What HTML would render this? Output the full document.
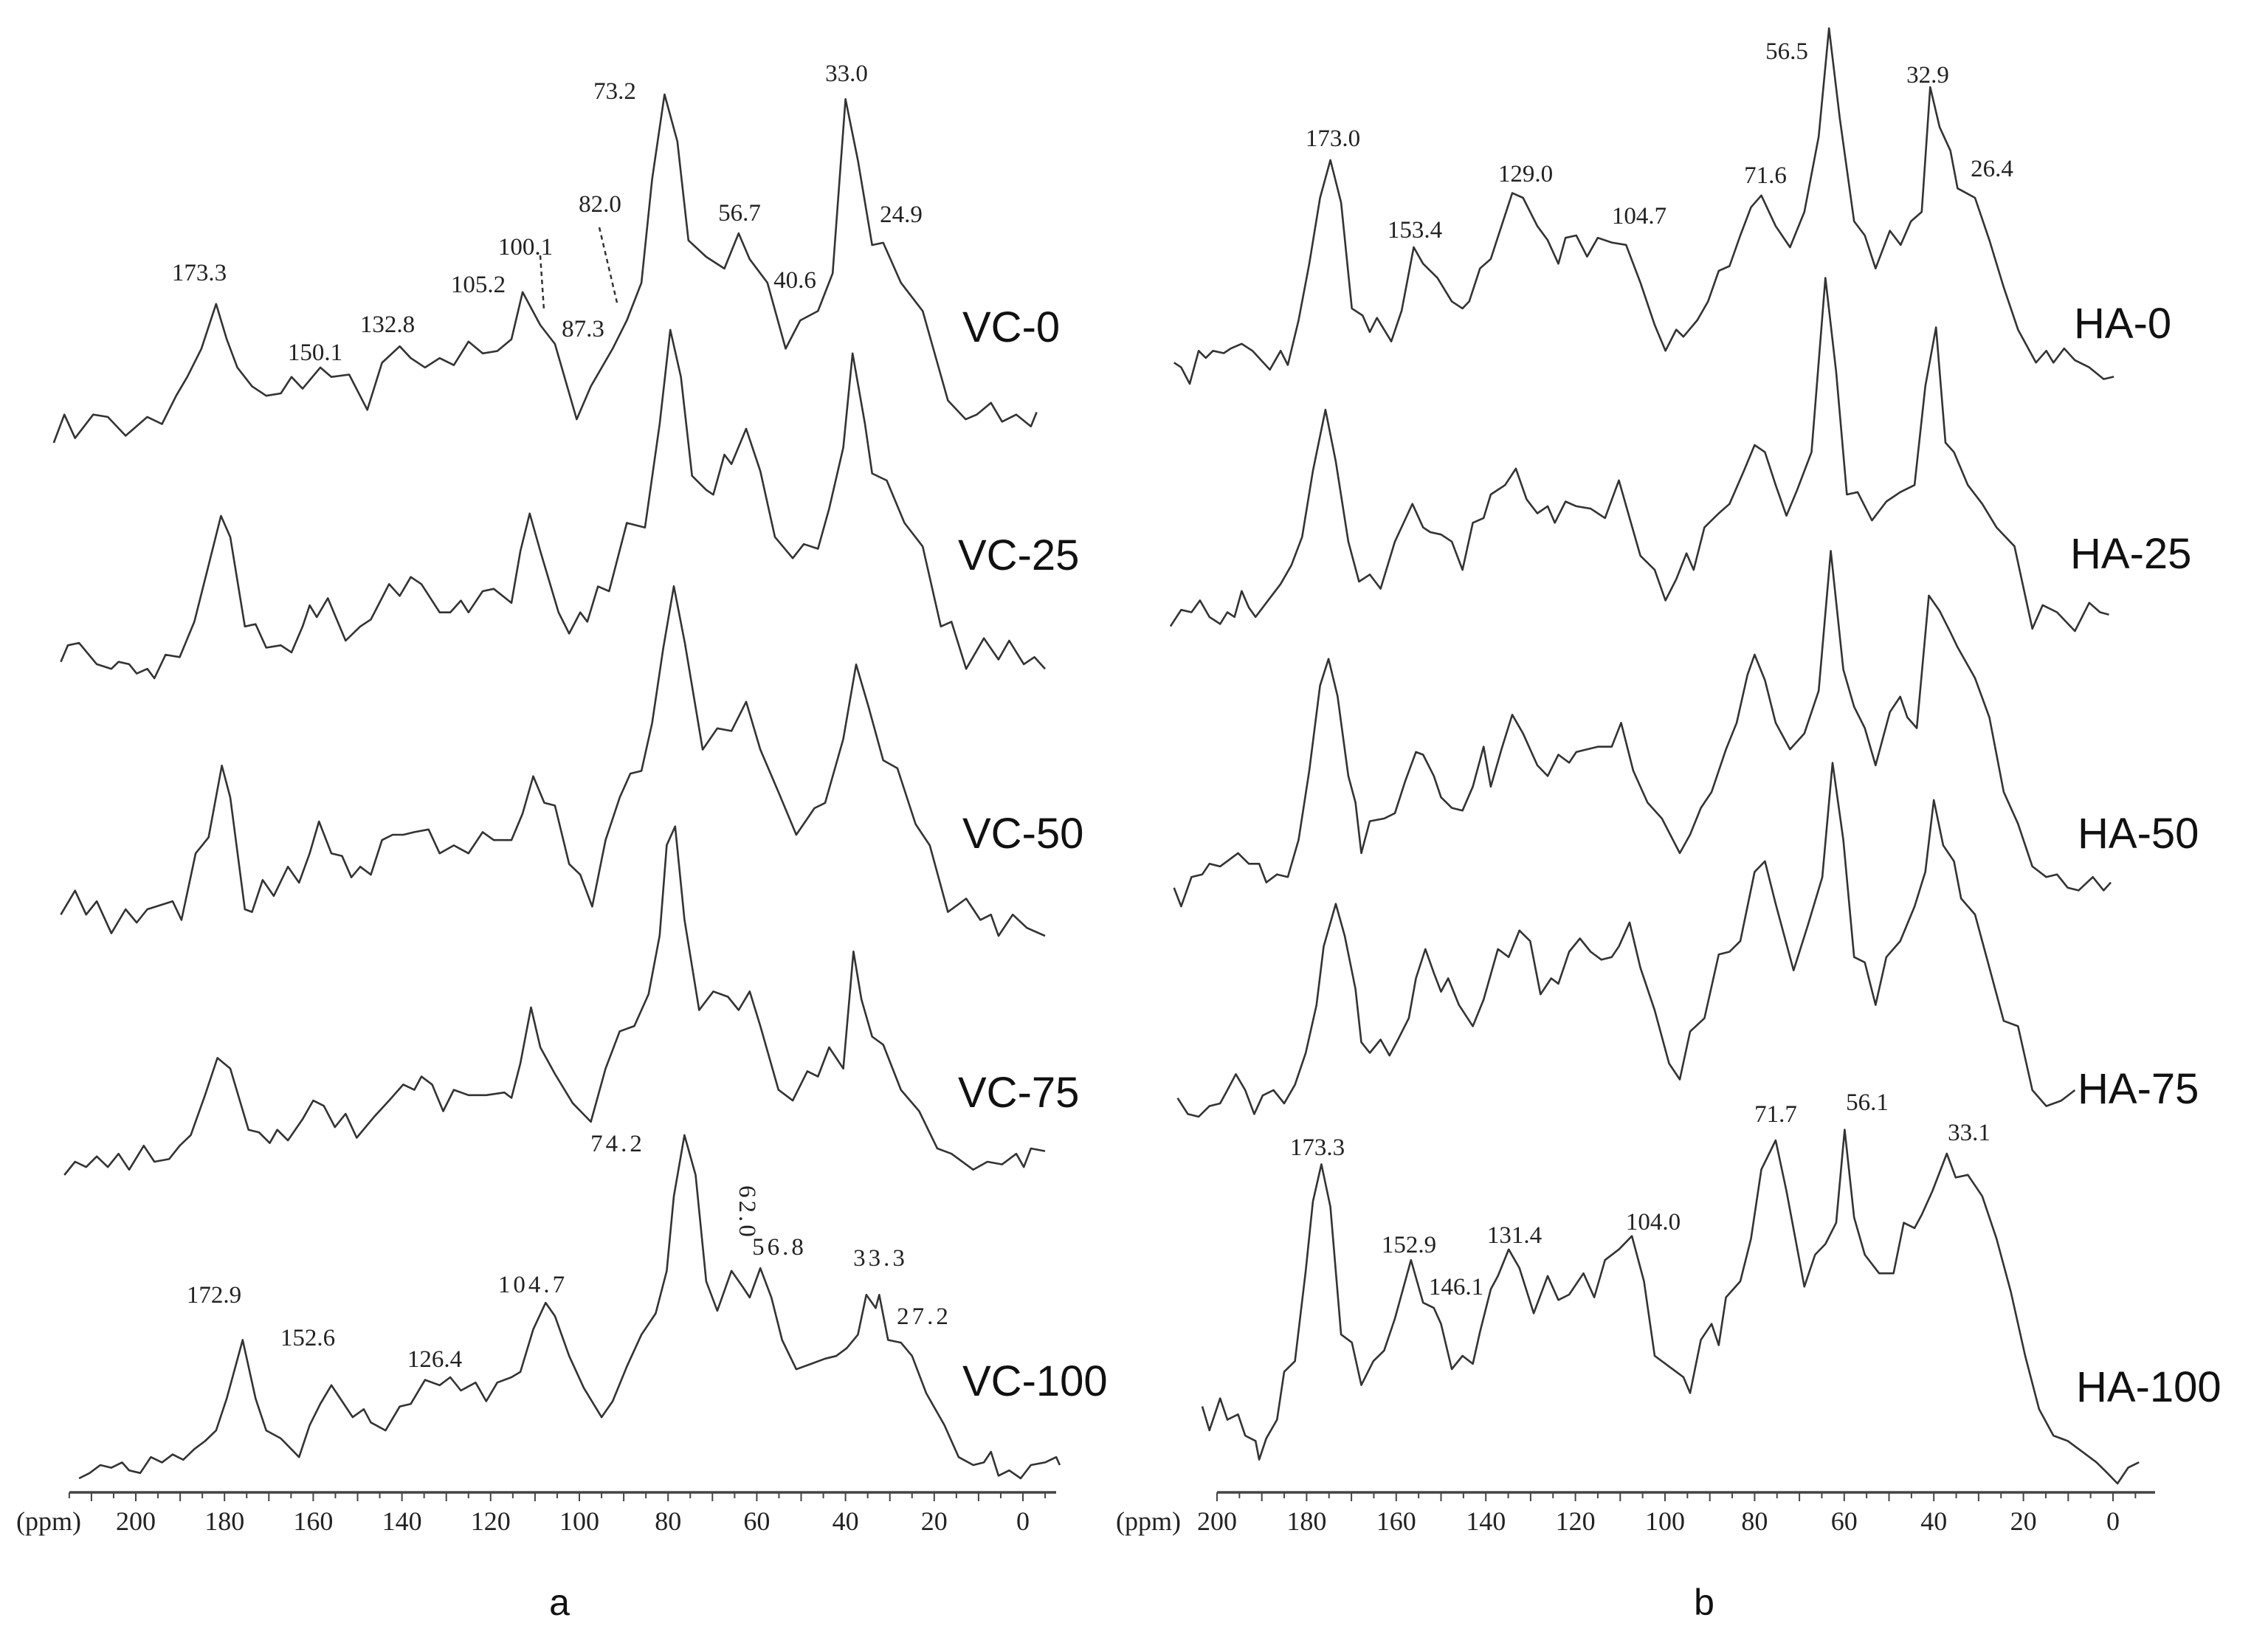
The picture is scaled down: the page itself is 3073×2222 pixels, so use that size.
<!DOCTYPE html>
<html><head><meta charset="utf-8">
<style>
html,body{margin:0;padding:0;background:#fff;}
svg{display:block;}
.pk{font-family:"Liberation Serif",serif;font-size:33px;fill:#222;}
.lab{font-family:"Liberation Sans",sans-serif;font-size:58px;fill:#111;}
.tk{font-family:"Liberation Serif",serif;font-size:36px;fill:#222;}
.pan{font-family:"Liberation Sans",sans-serif;font-size:50px;fill:#111;}
</style></head>
<body>
<svg id="chart" width="3073" height="2222" viewBox="0 0 3073 2222" xmlns="http://www.w3.org/2000/svg">
<g id="panelA"></g>
<g id="panelB"></g>
<g>
<text class="pk" x="270" y="380" text-anchor="middle">173.3</text>
<text class="pk" x="427" y="488" text-anchor="middle">150.1</text>
<text class="pk" x="525" y="450" text-anchor="middle">132.8</text>
<text class="pk" x="648" y="396" text-anchor="middle">105.2</text>
<text class="pk" x="712" y="345" text-anchor="middle">100.1</text>
<text class="pk" x="813" y="287" text-anchor="middle">82.0</text>
<text class="pk" x="790" y="456" text-anchor="middle">87.3</text>
<text class="pk" x="833" y="134" text-anchor="middle">73.2</text>
<text class="pk" x="1002" y="299" text-anchor="middle">56.7</text>
<text class="pk" x="1077" y="390" text-anchor="middle">40.6</text>
<text class="pk" x="1147" y="110" text-anchor="middle">33.0</text>
<text class="pk" x="1221" y="301" text-anchor="middle">24.9</text>
<line x1="732" y1="346" x2="737" y2="420" stroke="#333" stroke-width="2.5" stroke-dasharray="6,5"/>
<line x1="812" y1="308" x2="836" y2="410" stroke="#333" stroke-width="2.5" stroke-dasharray="6,5"/>
<text class="pk" x="837" y="1560" text-anchor="middle" letter-spacing="4">74.2</text>
<text class="pk" x="0" y="0" text-anchor="middle" letter-spacing="4" transform="translate(1002,1643) rotate(90)">62.0</text>
<text class="pk" x="1056" y="1700" text-anchor="middle" letter-spacing="4">56.8</text>
<text class="pk" x="1193" y="1715" text-anchor="middle" letter-spacing="4">33.3</text>
<text class="pk" x="1252" y="1794" text-anchor="middle" letter-spacing="4">27.2</text>
<text class="pk" x="722" y="1751" text-anchor="middle" letter-spacing="4">104.7</text>
<text class="pk" x="290" y="1765" text-anchor="middle">172.9</text>
<text class="pk" x="417" y="1823" text-anchor="middle">152.6</text>
<text class="pk" x="589" y="1852" text-anchor="middle">126.4</text>
</g>
<g>
<text class="pk" x="1806" y="198" text-anchor="middle">173.0</text>
<text class="pk" x="1917" y="322" text-anchor="middle">153.4</text>
<text class="pk" x="2067" y="246" text-anchor="middle">129.0</text>
<text class="pk" x="2221" y="303" text-anchor="middle">104.7</text>
<text class="pk" x="2392" y="248" text-anchor="middle">71.6</text>
<text class="pk" x="2421" y="80" text-anchor="middle">56.5</text>
<text class="pk" x="2612" y="112" text-anchor="middle">32.9</text>
<text class="pk" x="2699" y="239" text-anchor="middle">26.4</text>
<text class="pk" x="1785" y="1565" text-anchor="middle">173.3</text>
<text class="pk" x="2406" y="1520" text-anchor="middle">71.7</text>
<text class="pk" x="2530" y="1504" text-anchor="middle">56.1</text>
<text class="pk" x="2668" y="1545" text-anchor="middle">33.1</text>
<text class="pk" x="1909" y="1697" text-anchor="middle">152.9</text>
<text class="pk" x="1973" y="1754" text-anchor="middle">146.1</text>
<text class="pk" x="2052" y="1684" text-anchor="middle">131.4</text>
<text class="pk" x="2240" y="1666" text-anchor="middle">104.0</text>
</g>
<text class="pan" x="758" y="2188" text-anchor="middle">a</text>
<text class="pan" x="2309" y="2188" text-anchor="middle">b</text>
</svg>
<script>
// ---- data: chemical shift (ppm, axis position) and intensity (arbitrary units) ----
const vc0_ppm=[218.5,216.1,213.7,209.6,206.3,202.3,197.4,194.1,190.9,188.4,185.2,181.9,179.5,177.1,173.8,170.6,167.3,164.9,162.4,158.4,155.9,151.9,147.8,144.5,140.5,138.0,134.8,131.5,128.3,125.0,121.8,118.5,115.3,112.8,108.8,105.5,100.6,97.4,92.5,89.3,86.0,83.6,80.8,77.9,75.4,71.4,67.3,64.1,61.6,57.6,53.5,50.2,46.2,42.9,40.0,37.2,34.0,31.5,27.5,22.6,16.9,12.9,10.4,7.2,4.7,1.5,-1.8,-3.1];
const vc0_int=[0,60,10,60,55,15,55,40,100,140,200,295,220,160,120,100,105,140,115,160,140,145,70,170,205,180,160,180,165,215,190,195,220,320,250,210,50,120,200,260,340,560,740,640,430,395,370,445,390,340,200,260,280,360,730,600,420,425,340,280,90,50,60,85,45,60,35,65];
const vc25_ppm=[216.9,215.3,212.8,208.8,205.5,203.9,201.5,199.8,197.4,195.8,193.3,190.1,186.8,183.6,180.8,178.7,175.4,173.0,170.6,167.3,164.9,162.4,160.8,159.2,156.7,152.7,149.4,147.0,142.9,140.5,138.0,135.6,131.5,129.1,126.7,125.0,121.8,119.3,115.3,113.3,111.2,108.8,104.7,102.3,99.8,98.2,95.8,93.3,89.3,85.2,81.9,79.5,77.1,74.6,71.4,69.8,67.3,65.7,62.4,59.2,55.9,51.9,49.4,46.2,43.7,40.5,38.4,35.6,34.0,30.7,26.7,22.6,18.5,16.1,12.8,8.8,5.5,3.1,-0.2,-2.6,-5.0];
const vc25_int=[35,70,75,30,20,35,30,10,20,0,50,45,120,240,345,300,110,115,65,70,55,110,155,130,170,80,110,125,200,175,215,200,140,140,165,140,185,190,160,270,350,270,140,95,140,120,195,185,330,320,540,740,640,430,400,390,475,455,530,440,300,255,285,275,360,490,690,540,435,420,330,280,110,120,20,85,40,80,30,45,20];
const vc50_ppm=[216.9,213.7,211.2,208.8,205.5,202.3,199.8,197.4,191.7,189.7,186.5,183.6,180.6,178.7,175.4,173.8,171.4,168.9,165.7,163.2,160.8,158.7,155.9,153.5,151.4,149.4,147.0,144.5,142.1,139.7,137.2,134.0,131.5,128.3,125.0,121.8,119.3,115.3,112.8,110.4,107.9,105.5,102.3,99.8,97.1,94.1,90.9,88.5,86.0,83.6,81.1,78.7,76.2,72.2,68.9,65.7,62.4,59.2,55.1,51.1,47.0,44.6,40.5,37.6,34.8,31.5,28.3,24.2,21.0,16.9,12.8,9.6,7.2,5.5,2.3,-0.9,-5.0];
const vc50_int=[40,85,40,65,5,50,25,50,65,30,155,185,320,260,50,45,105,75,130,100,155,215,155,150,110,130,115,180,190,190,195,200,155,170,155,195,180,180,230,300,250,245,135,115,55,180,260,305,310,400,540,657,550,350,390,385,440,350,270,190,240,250,370,510,430,330,315,210,170,45,70,30,40,0,40,15,0];
const vc75_ppm=[216.1,213.7,211.2,208.8,206.3,203.9,201.5,198.2,195.8,192.5,190.1,187.6,184.4,181.6,178.7,174.6,172.2,169.8,168.1,165.7,162.4,160.0,157.6,155.1,152.7,150.2,146.2,142.9,139.7,137.2,135.6,133.2,130.7,128.3,125.0,121.0,116.9,115.3,113.3,110.9,108.8,105.5,101.5,97.4,94.1,90.9,87.6,84.4,81.9,80.3,78.4,76.3,73.0,69.8,66.5,64.1,61.6,59.2,55.1,51.9,48.6,46.2,43.7,40.5,38.2,36.4,34.0,31.5,27.5,23.4,19.3,16.1,11.2,8.0,4.7,1.5,-0.2,-1.8,-5.0];
const vc75_int=[0,25,15,35,15,40,10,55,25,30,55,75,150,220,200,85,80,60,85,65,105,140,130,90,115,70,110,140,170,160,185,170,120,160,150,150,155,145,210,315,240,190,135,100,200,270,280,340,450,620,655,480,310,345,335,310,345,280,160,140,195,185,240,200,420,330,260,245,160,120,50,40,10,25,20,40,15,50,45];
const vc100_ppm=[212.8,210.4,208.0,205.5,203.1,201.5,199.0,196.6,194.1,191.7,189.3,186.8,184.4,181.9,179.5,175.9,173.0,170.6,167.3,163.2,160.8,158.4,155.9,153.5,151.1,148.6,147.0,143.7,140.5,138.0,134.8,131.5,129.1,126.7,123.4,121.0,118.5,115.3,113.3,110.4,107.6,105.5,102.3,99.0,95.0,92.5,89.3,86.0,82.8,80.3,78.7,76.3,73.8,71.4,68.9,65.7,63.2,61.6,59.2,56.7,54.3,51.1,47.8,44.6,42.1,39.7,37.2,35.3,33.2,32.4,30.4,27.5,25.0,21.8,17.7,14.5,11.2,8.8,7.2,5.5,3.1,0.5,-1.8,-5.0,-7.5,-8.3];
const vc100_int=[0,10,25,20,30,15,10,40,30,45,35,55,70,90,150,260,150,90,75,40,100,140,175,145,115,130,105,90,135,140,185,175,190,165,180,145,180,190,200,280,330,305,230,170,115,145,210,270,310,390,530,645,570,370,315,390,360,340,395,340,260,205,215,225,230,245,270,345,320,345,260,255,230,160,100,40,25,30,50,5,15,0,25,30,40,25];
const ha0_ppm=[209.6,208.0,206.1,204.1,202.5,200.9,198.5,196.9,194.5,192.1,188.2,185.8,184.2,181.8,179.4,177.0,174.7,172.3,169.9,167.5,165.9,164.3,161.1,158.8,156.1,154.0,150.8,147.6,145.2,143.7,141.3,138.9,136.5,134.1,131.7,128.5,126.2,123.8,122.2,119.8,117.4,115.0,111.9,108.7,105.5,102.3,99.9,97.5,95.9,92.8,90.4,88.0,85.6,83.2,80.8,78.5,75.3,72.1,68.9,65.7,63.4,61.0,57.8,55.4,53.0,49.8,47.4,45.1,42.7,40.8,38.7,36.3,34.7,30.8,27.6,24.4,21.2,17.2,14.9,13.3,10.9,8.5,5.3,2.1,-0.2];
const ha0_int=[45,35,0,70,55,70,65,75,85,70,30,70,40,135,255,395,475,385,160,145,110,140,90,155,290,255,225,175,160,175,245,265,335,405,395,335,305,255,310,315,270,310,300,295,215,125,70,115,100,135,175,240,250,315,375,400,335,290,365,525,755,565,345,315,245,325,295,345,365,630,545,495,415,395,305,205,115,45,70,45,75,50,35,10,15];
const ha25_ppm=[210.4,208.0,205.7,203.8,201.7,199.3,197.7,196.1,194.5,192.9,191.4,189.0,185.8,183.4,181.0,178.6,175.8,173.5,170.7,168.3,165.9,163.5,160.3,156.4,154.0,152.4,150.0,147.6,145.2,142.9,140.5,138.9,135.7,133.3,130.9,128.5,126.2,124.6,122.2,119.8,116.6,113.4,110.3,107.9,105.5,102.3,99.9,97.5,95.2,93.6,91.2,88.0,85.6,82.4,80.0,77.7,75.3,72.9,70.5,67.3,64.2,61.8,59.4,57.0,53.8,50.6,47.5,44.3,41.9,39.5,37.4,35.5,32.4,29.2,26.0,22.0,18.0,15.7,12.5,8.5,5.3,2.9,0.9];
const ha25_int=[10,45,40,65,30,15,40,30,85,50,30,60,100,140,200,340,470,360,190,105,120,90,190,270,220,210,205,190,130,230,240,290,310,345,280,250,265,230,275,265,260,240,320,240,160,130,65,110,165,130,220,250,270,340,395,380,310,245,300,380,750,550,290,295,235,275,295,310,520,645,400,380,310,270,220,180,5,55,40,0,60,40,35];
const ha50_ppm=[209.6,208.0,205.7,203.3,201.7,199.3,197.7,195.3,192.9,190.6,189.0,186.6,184.2,181.8,179.4,177.0,175.1,173.1,170.7,169.1,167.8,165.9,162.7,160.3,158.0,155.6,154.0,151.6,150.0,147.6,145.2,142.9,140.5,138.9,136.5,134.1,131.7,128.5,126.2,123.8,121.4,119.8,117.4,115.0,111.9,109.8,107.1,103.9,100.7,96.7,94.4,92.0,89.6,86.4,84.0,81.6,80.0,77.7,75.3,72.1,68.9,65.7,63.0,60.2,57.8,55.4,53.0,49.8,47.5,45.9,43.8,41.1,38.7,36.3,34.7,30.8,27.6,24.4,21.2,18.0,14.9,12.5,10.1,7.7,4.5,2.1,0.5];
const ha50_int=[35,0,55,60,80,75,85,100,80,80,45,60,55,125,255,415,465,395,245,195,100,160,165,175,235,290,285,245,205,185,180,225,300,225,295,360,325,265,245,285,270,290,295,300,300,345,255,195,165,100,135,185,215,295,345,435,473,425,345,295,325,405,668,445,375,335,265,365,394,355,335,584,555,515,487,429,355,215,155,75,55,60,35,30,55,30,45];
const ha75_ppm=[208.8,206.5,204.1,201.7,199.3,197.7,195.8,193.7,191.7,189.8,187.4,185.0,182.6,180.2,177.8,176.2,173.5,171.5,169.1,167.8,165.9,163.5,161.5,159.6,157.2,155.6,153.5,151.6,150.0,148.4,146.0,142.9,140.5,137.3,134.9,132.5,130.1,127.8,125.4,123.8,121.4,119.0,116.6,114.2,111.9,110.3,107.9,105.5,102.3,99.1,96.7,94.4,91.2,88.0,85.6,83.2,80.0,77.7,75.3,71.3,68.1,64.9,62.6,60.2,57.8,55.4,53.0,50.6,47.5,44.3,41.9,40.0,37.9,35.5,33.9,30.8,27.6,24.4,21.2,18.0,14.9,11.6,8.5];
const ha75_int=[35,5,0,20,25,50,80,50,5,40,50,25,60,120,210,320,400,340,240,140,120,145,115,145,185,260,315,270,235,260,210,170,220,315,300,350,330,230,260,250,310,335,310,295,300,320,365,280,200,100,70,160,185,305,310,330,460,480,400,275,360,450,665,520,300,290,210,300,330,395,460,595,510,480,410,380,280,180,170,50,20,30,50];
const ha100_ppm=[203.3,201.7,199.3,197.7,195.3,193.7,191.4,190.6,189.0,186.6,185.0,182.6,180.2,178.6,176.7,174.7,172.3,169.9,167.8,165.1,162.7,160.3,156.7,154.0,151.6,150.0,147.6,145.2,142.9,141.3,138.9,137.3,134.9,132.5,129.3,126.2,123.8,121.4,118.2,115.8,113.4,110.3,107.4,104.7,102.3,99.1,95.9,94.4,92.0,89.6,88.0,86.4,83.2,80.8,78.5,75.3,72.9,68.9,66.5,64.2,61.8,59.9,57.8,55.4,52.2,49.0,46.7,44.3,42.7,40.3,37.1,35.1,32.4,29.2,26.0,22.8,19.6,16.5,13.3,10.1,6.9,3.7,1.3,-1.0,-3.4,-5.8];
const ha100_int=[145,100,160,120,130,90,80,45,85,120,210,230,400,530,600,520,280,265,185,230,250,310,420,340,330,300,215,240,225,285,365,390,440,405,320,390,345,355,395,350,420,440,465,380,240,220,200,170,270,300,260,350,380,460,590,645,550,370,430,450,490,665,500,430,395,395,490,480,505,550,620,575,580,540,460,360,240,140,90,80,60,40,20,0,30,40];

const labelsA=["VC-0","VC-25","VC-50","VC-75","VC-100"];
const labelsB=["HA-0","HA-25","HA-50","HA-75","HA-100"];
const ticksA=[200,180,160,140,120,100,80,60,40,20,0];
const ticksB=[200,180,160,140,120,100,80,60,40,20,0];

// ---- layout (positions/scales, not data) ----
const NS="http://www.w3.org/2000/svg";
function xA(p){return 1386-6.01*p;}
function xB(p){return 1649+(200-p)*6.07;}
const seriesA=[[vc0_ppm,vc0_int,600,0.638],[vc25_ppm,vc25_int,919,0.638],[vc50_ppm,vc50_int,1268,0.721],[vc75_ppm,vc75_int,1592,0.721],[vc100_ppm,vc100_int,2003,0.721]];
const seriesB=[[ha0_ppm,ha0_int,520,0.638],[ha25_ppm,ha25_int,855,0.638],[ha50_ppm,ha50_int,1228,0.721],[ha75_ppm,ha75_int,1513,0.721],[ha100_ppm,ha100_int,2010,0.721]];
const labPosA=[[1304,463],[1298,772],[1304,1149],[1298,1500],[1304,1891]];
const labPosB=[[2810,458],[2805,770],[2815,1149],[2815,1495],[2813,1899]];

function mk(tag,attrs,parent){const e=document.createElementNS(NS,tag);for(const k in attrs)e.setAttribute(k,attrs[k]);parent.appendChild(e);return e;}

function drawPanel(g,series,xf,labels,labPos,ticks,axX0,axX1,tickFrom,tickTo,ppmX,prefix){
  series.forEach((s,i)=>{
    const [pp,iv,base,gain]=s;
    let d="";
    for(let j=0;j<pp.length;j++){d+=(j?"L":"M")+xf(pp[j]).toFixed(1)+","+(base-iv[j]*gain).toFixed(1);}
    const path=mk("path",{d:d,fill:"none",stroke:"#333","stroke-width":"2.6","stroke-linejoin":"round"},g);
    
    
    const t=mk("text",{class:"lab",x:labPos[i][0],y:labPos[i][1]},g);
    t.textContent=labels[i];
    
    
  });
  const ax=mk("line",{x1:axX0,y1:2022,x2:axX1,y2:2022,stroke:"#444","stroke-width":"3.5"},g);
  
  
  for(let p=tickFrom;p>=tickTo;p-=5){
    const x=xf(p);
    const major=(p%10===0);
    const tl=mk("line",{x1:x,y1:2022,x2:x,y2:major?2034:2030,stroke:"#444","stroke-width":"2"},g);
    
    
  }
  ticks.forEach(v=>{
    const t=mk("text",{class:"tk",x:xf(v),y:2073,"text-anchor":"middle"},g);
    t.textContent=String(v);
    
    
  });
  const u=mk("text",{class:"tk",x:ppmX,y:2073},g);
  u.textContent="(ppm)";
  
  
}
drawPanel(document.getElementById("panelA"),seriesA,xA,labelsA,labPosA,ticksA,94,1431,215,-5,22,"a");
drawPanel(document.getElementById("panelB"),seriesB,xB,labelsB,labPosB,ticksB,1649,2920,200,-5,1512,"b");
</script>
</body></html>
